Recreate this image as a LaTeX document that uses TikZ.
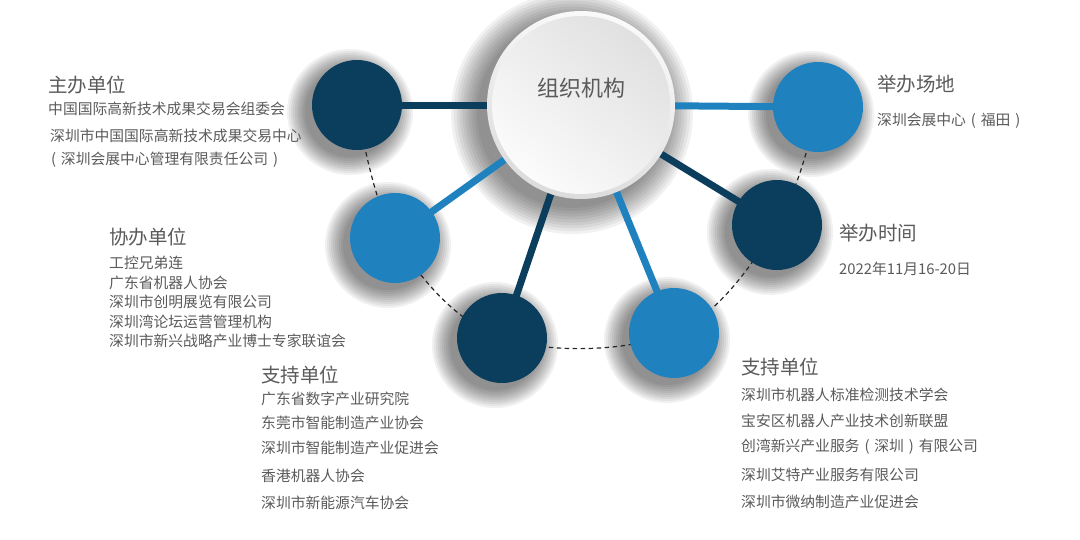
\documentclass[tikz,border=0pt]{standalone}
\usepackage{fontspec}
\setmainfont{Noto Sans CJK SC}
\definecolor{navy}{RGB}{11,62,92}
\definecolor{sky}{RGB}{31,130,190}
\definecolor{txt}{RGB}{90,90,90}
\pgfdeclarelayer{shadowlayer}
\pgfdeclarelayer{linelayer}
\pgfsetlayers{shadowlayer,linelayer,main}
\newcommand\zlp{\makebox[1em]{(}}
\newcommand\zrp{\makebox[1em]{)}}
% #1 node, #2 shift, #3 outer radius, #4 step
\newcommand\softshadow[4]{%
  \fill[fill=black, fill opacity=0.055] ([shift={#2}]#1.center) circle[radius={#3}];
  \fill[fill=black, fill opacity=0.055] ([shift={#2}]#1.center) circle[radius={#3-#4}];
  \fill[fill=black, fill opacity=0.055] ([shift={#2}]#1.center) circle[radius={#3-2*#4}];
  \fill[fill=black, fill opacity=0.055] ([shift={#2}]#1.center) circle[radius={#3-3*#4}];
  \fill[fill=black, fill opacity=0.055] ([shift={#2}]#1.center) circle[radius={#3-4*#4}];
  \fill[fill=black, fill opacity=0.055] ([shift={#2}]#1.center) circle[radius={#3-5*#4}];
  \fill[fill=black, fill opacity=0.055] ([shift={#2}]#1.center) circle[radius={#3-6*#4}];
  \fill[fill=black, fill opacity=0.055] ([shift={#2}]#1.center) circle[radius={#3-7*#4}];
  \fill[fill=black, fill opacity=0.055] ([shift={#2}]#1.center) circle[radius={#3-8*#4}];
  \fill[fill=black, fill opacity=0.055] ([shift={#2}]#1.center) circle[radius={#3-9*#4}];
}
\begin{document}
\begin{tikzpicture}[x=1pt,y=-1pt,
  bub/.style={circle, minimum size=90pt, inner sep=0pt},
  dk/.style={bub, fill=navy},
  lt/.style={bub, fill=sky},
  link/.style={line width=7pt},
  ttl/.style={anchor=west, inner sep=0pt, font=\fontsize{19.5}{22}\selectfont, text=txt},
  body/.style={anchor=west, inner sep=0pt, font=\fontsize{14.8}{17}\selectfont, text=txt}
]
\useasboundingbox (0,0) rectangle (1080,539);

% center circle
\node[circle, minimum size=188pt, inner sep=0pt, top color=gray!4, bottom color=gray!28, shading angle=-15] (c) at (581,105) {};
\node[circle, minimum size=178pt, inner sep=0pt, top color=gray!24, bottom color=gray!3, shading angle=-40] (ci) at (c) {};
\node[inner sep=0pt, font=\fontsize{22}{24}\selectfont, text=txt] (ct) at (581,88) {组织机构};

% outer circles
\node[dk] (n1) at (357,105) {};
\node[lt] (n2) at (395,238) {};
\node[dk] (n3) at (502,338) {};
\node[lt] (n4) at (674,333) {};
\node[dk] (n5) at (777,225) {};
\node[lt] (n6) at (818,107) {};

\begin{pgfonlayer}{shadowlayer}
  \softshadow{n1}{(-7,7)}{63}{2}
  \softshadow{n2}{(-7,7)}{63}{2}
  \softshadow{n3}{(-7,7)}{63}{2}
  \softshadow{n4}{(-7,7)}{63}{2}
  \softshadow{n5}{(-7,7)}{63}{2}
  \softshadow{n6}{(-7,7)}{63}{2}
  \softshadow{c}{(-9,8)}{121}{2.9}
\end{pgfonlayer}

\begin{pgfonlayer}{linelayer}
  \draw[line width=1.2pt, black!85, dash pattern=on 4.5pt off 3.5pt]
    plot[smooth, tension=0.6] coordinates {(n1.center) (n2.center) (n3.center) (n4.center) (n5.center) (n6.center)};
  \draw[link, navy] (c.center) -- (n1.center);
  \draw[link, sky] (c.center) -- (n2.center);
  \draw[link, navy] (c.center) -- (n3.center);
  \draw[link, sky] (c.center) -- (n4.center);
  \draw[link, navy] (c.center) -- (n5.center);
  \draw[link, sky] (c.center) -- (n6.center);
\end{pgfonlayer}

% 主办单位
\node[ttl] (t1) at (48,85) {主办单位};
\node[body] (t1a) at (48,109) {中国国际高新技术成果交易会组委会};
\node[body] (t1b) at (50,136) {深圳市中国国际高新技术成果交易中心};
\node[body] (t1c) at (46,160) {\zlp 深圳会展中心管理有限责任公司\zrp};

% 协办单位
\node[ttl] (t2) at (109,237) {协办单位};
\node[body] (t2a) at (109,263) {工控兄弟连};
\node[body] (t2b) at (109,283) {广东省机器人协会};
\node[body] (t2c) at (109,302) {深圳市创明展览有限公司};
\node[body] (t2d) at (109,322) {深圳湾论坛运营管理机构};
\node[body] (t2e) at (109,341) {深圳市新兴战略产业博士专家联谊会};

% 支持单位 (left)
\node[ttl] (t3) at (261,375) {支持单位};
\node[body] (t3a) at (261,399) {广东省数字产业研究院};
\node[body] (t3b) at (261,423) {东莞市智能制造产业协会};
\node[body] (t3c) at (261,448) {深圳市智能制造产业促进会};
\node[body] (t3d) at (261,476) {香港机器人协会};
\node[body] (t3e) at (261,503) {深圳市新能源汽车协会};

% 支持单位 (right)
\node[ttl] (t4) at (741,367) {支持单位};
\node[body] (t4a) at (741,395) {深圳市机器人标准检测技术学会};
\node[body] (t4b) at (741,421) {宝安区机器人产业技术创新联盟};
\node[body] (t4c) at (741,447) {创湾新兴产业服务\zlp 深圳\zrp 有限公司};
\node[body] (t4d) at (741,475) {深圳艾特产业服务有限公司};
\node[body] (t4e) at (741,502) {深圳市微纳制造产业促进会};

% 举办场地
\node[ttl] (t5) at (877,84) {举办场地};
\node[body] (t5a) at (877,121) {深圳会展中心\zlp 福田\zrp};

% 举办时间
\node[ttl] (t6) at (839,233) {举办时间};
\node[body] (t6a) at (839,269) {2022年11月16-20日};
\end{tikzpicture}
\end{document}
